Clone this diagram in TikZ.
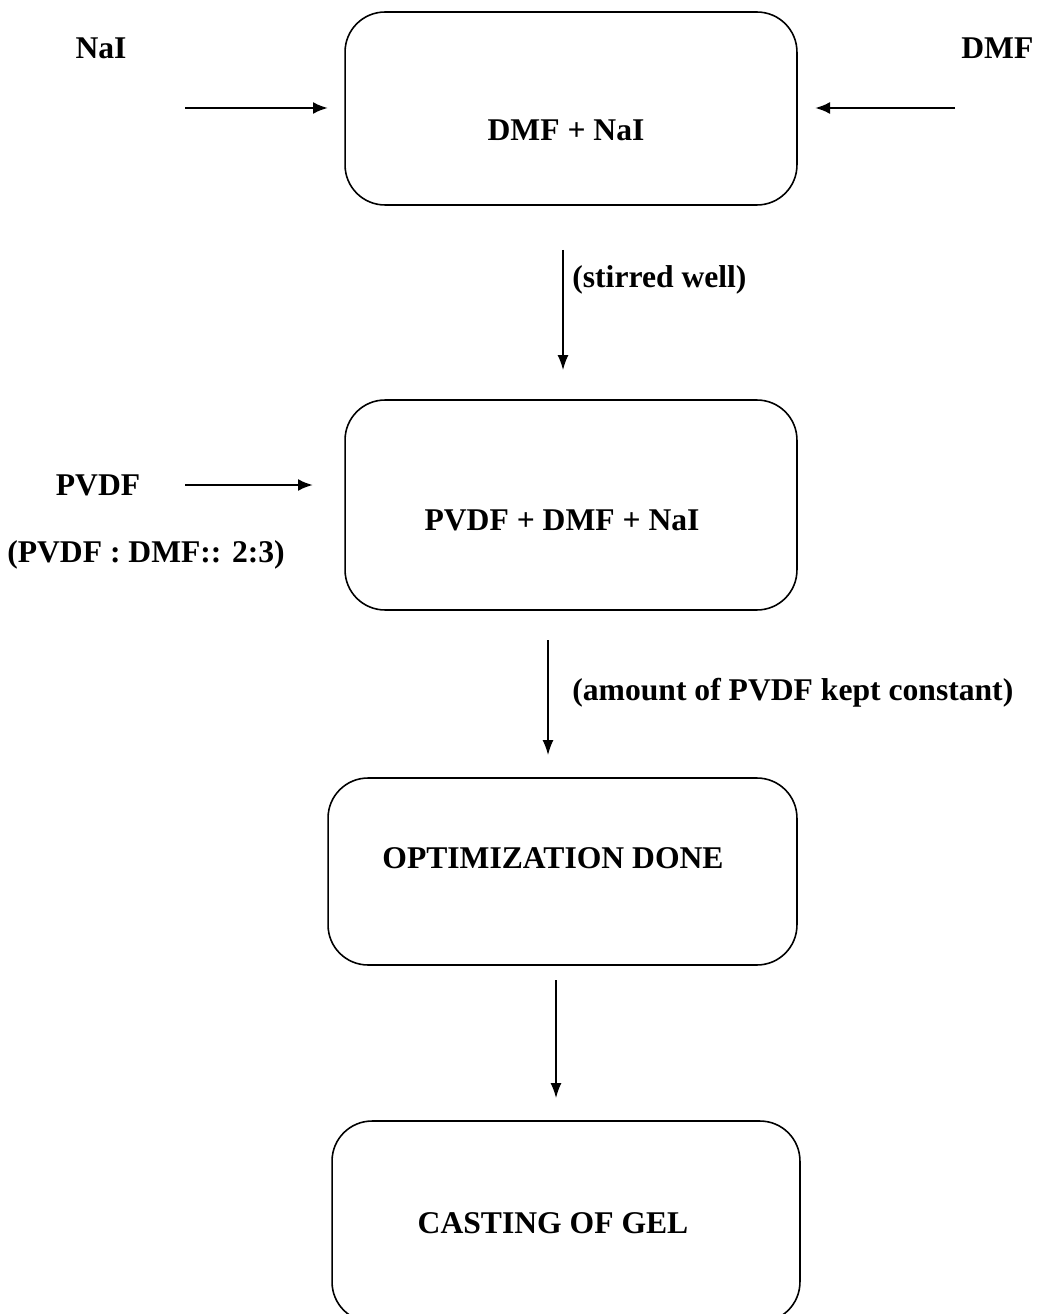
\documentclass[tikz,border=0pt]{standalone}
\usepackage{fontspec}
\setmainfont{Liberation Serif}
\usetikzlibrary{arrows.meta}

\tikzset{
  stepbox/.style={draw, rounded corners=0.8cm, line width=0.9pt, inner sep=0pt},
  flow/.style={-{Latex[length=3mm,width=2.2mm]}, line width=0.8pt},
  feed/.style={-{Latex[length=3mm,width=2.4mm]}, line width=1.4pt},
  lbl/.style={font=\fontsize{18}{21}\selectfont\bfseries, inner sep=0pt},
}

\begin{document}
\begin{tikzpicture}[x=0.02cm, y=-0.02cm]
	\useasboundingbox (0,0) rectangle (1036,1314);

	% process boxes
	\node [stepbox, minimum width=9.04cm, minimum height=3.86cm] (mix) at (571, 108.5) {};
	\node [stepbox, minimum width=9.04cm, minimum height=4.2cm] (blend) at (571, 505) {};
	\node [stepbox, minimum width=9.38cm, minimum height=3.74cm] (optim) at (562.5, 871.5) {};
	\node [stepbox, minimum width=9.36cm, minimum height=4.02cm] (cast) at (566, 1221.5) {};

	% box texts
	\node [lbl] (mixtxt) at (566, 130) {DMF + NaI};
	\node [lbl] (blendtxt) at (562, 520) {PVDF + DMF + NaI};
	\node [lbl] (optimtxt) at (553, 858) {OPTIMIZATION DONE};
	\node [lbl] (casttxt) at (553, 1223) {CASTING OF GEL};

	% inputs
	\node [lbl] (nai) at (101, 48) {NaI};
	\node [lbl, anchor=west] (dmf) at (961, 48) {DMF};
	\node [lbl] (pvdf) at (98, 485) {PVDF};
	\node [lbl] (ratio) at (146, 555) {(PVDF : DMF:: 2:3)};

	\coordinate (naiA) at (185, 108);
	\coordinate (naiB) at (328, 108);
	\coordinate (dmfA) at (955, 108);
	\coordinate (dmfB) at (815, 108);
	\coordinate (pvdfA) at (185, 485);
	\coordinate (pvdfB) at (313, 485);
	\draw [feed] (naiA) -- (naiB);
	\draw [feed] (dmfA) -- (dmfB);
	\draw [feed] (pvdfA) -- (pvdfB);

	% downward steps
	\coordinate (s1a) at (563, 250);
	\coordinate (s1b) at (563, 370);
	\coordinate (s2a) at (548, 640);
	\coordinate (s2b) at (548, 755);
	\coordinate (s3a) at (556, 980);
	\coordinate (s3b) at (556, 1098);
	\draw [flow] (s1a) -- (s1b);
	\draw [flow] (s2a) -- (s2b);
	\draw [flow] (s3a) -- (s3b);
	\node [lbl, anchor=west] (stir) at (572, 280) {(stirred well)};
	\node [lbl, anchor=west] (keep) at (572, 693) {(amount of PVDF kept constant)};
\end{tikzpicture}
\end{document}
